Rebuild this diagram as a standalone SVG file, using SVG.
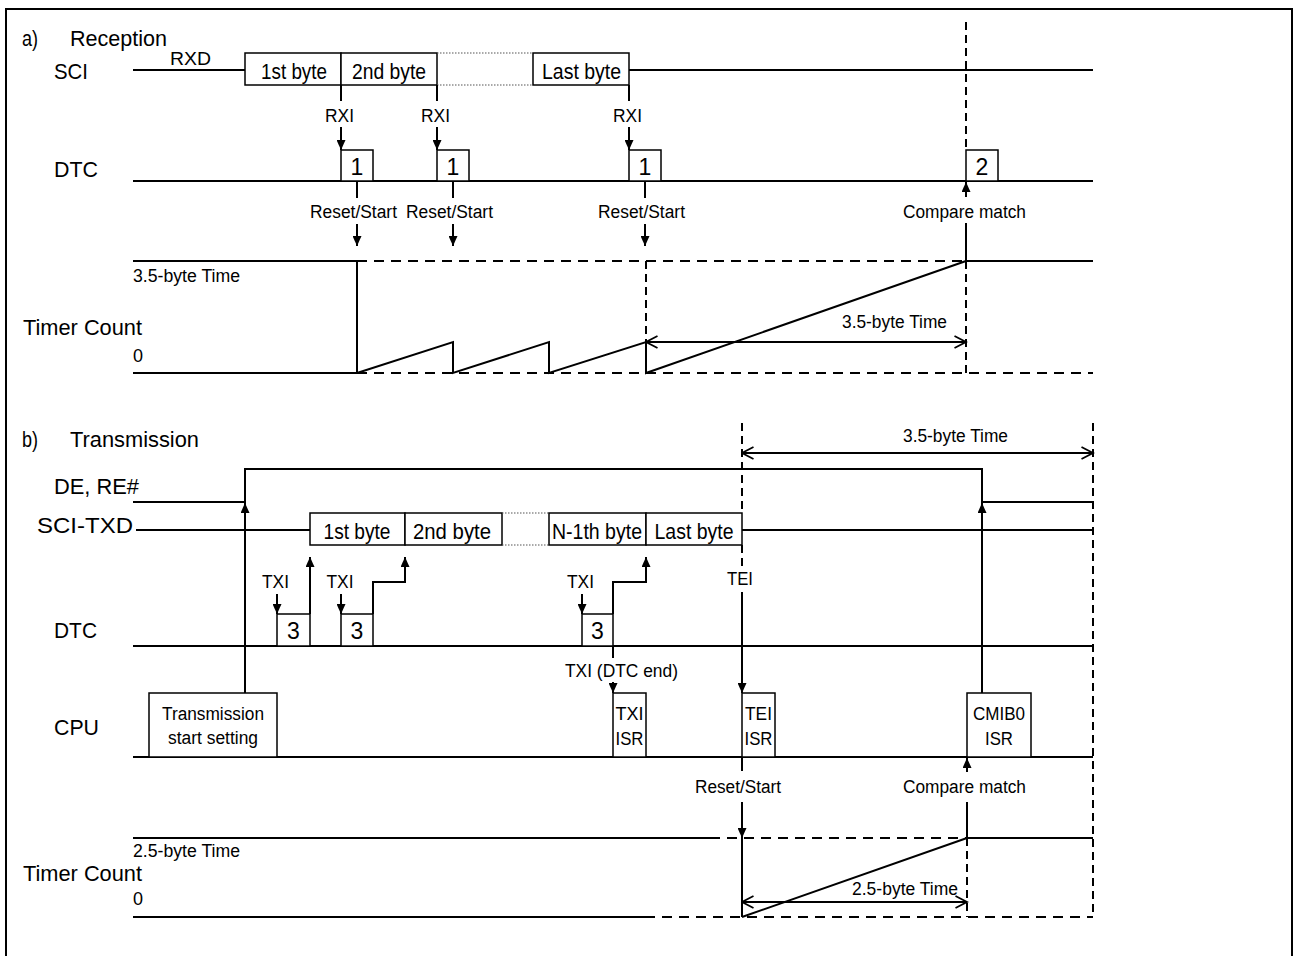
<svg xmlns="http://www.w3.org/2000/svg" width="1295" height="956" viewBox="0 0 1295 956">
<style>
text{font-family:"Liberation Sans",Arial,sans-serif;fill:#000}
.L{font-size:22px}
.m{font-size:18px}
.b{font-size:22px}
.n{font-size:23px}
.c{text-anchor:middle}
.s{stroke:#000;stroke-width:2;fill:none}
.d{stroke-dasharray:10 7}
.dv{stroke-dasharray:8 5}
.box{fill:#fff;stroke:#000;stroke-width:1.5}
.dot{stroke:#555;stroke-width:1.2;stroke-dasharray:1.5 1.5;fill:none}
.ar{marker-end:url(#ah)}
.dim{marker-start:url(#oh);marker-end:url(#oh)}
</style>
<defs>
<marker id="ah" markerUnits="userSpaceOnUse" markerWidth="10" markerHeight="9" refX="10" refY="4.5" orient="auto" viewBox="0 0 10 9"><path d="M0,0 L10,4.5 L0,9 z" fill="#000"/></marker>
<marker id="oh" markerUnits="userSpaceOnUse" markerWidth="14" markerHeight="14" refX="12.5" refY="7" orient="auto-start-reverse" viewBox="0 0 14 14"><path d="M1,1 L12.5,7 L1,13" fill="none" stroke="#000" stroke-width="1.8"/></marker>
</defs>
<rect x="6" y="9" width="1286" height="956" fill="#fff" stroke="#000" stroke-width="2"/>

<g id="titles">
<text class="L" x="22" y="46" textLength="16" lengthAdjust="spacingAndGlyphs">a)</text>
<text class="L" x="70" y="46" textLength="97" lengthAdjust="spacingAndGlyphs">Reception</text>
<text class="L" x="22" y="447" textLength="16" lengthAdjust="spacingAndGlyphs">b)</text>
<text class="L" x="70" y="447" textLength="129" lengthAdjust="spacingAndGlyphs">Transmission</text>
</g>

<g id="lane-labels">
<text class="m" x="170" y="65" textLength="41" lengthAdjust="spacingAndGlyphs">RXD</text>
<text class="L" x="54" y="79" textLength="34" lengthAdjust="spacingAndGlyphs">SCI</text>
<text class="L" x="54" y="177" textLength="44" lengthAdjust="spacingAndGlyphs">DTC</text>
<text class="m" x="133" y="282" textLength="107" lengthAdjust="spacingAndGlyphs">3.5-byte Time</text>
<text class="L" x="23" y="335" textLength="119" lengthAdjust="spacingAndGlyphs">Timer Count</text>
<text class="m" x="133" y="362">0</text>
<text class="L" x="54" y="494" textLength="85" lengthAdjust="spacingAndGlyphs">DE, RE#</text>
<text class="L" x="37" y="533" textLength="96" lengthAdjust="spacingAndGlyphs">SCI-TXD</text>
<text class="L" x="54" y="638" textLength="43" lengthAdjust="spacingAndGlyphs">DTC</text>
<text class="L" x="54" y="735" textLength="45" lengthAdjust="spacingAndGlyphs">CPU</text>
<text class="m" x="133" y="857" textLength="107" lengthAdjust="spacingAndGlyphs">2.5-byte Time</text>
<text class="L" x="23" y="881" textLength="119" lengthAdjust="spacingAndGlyphs">Timer Count</text>
<text class="m" x="133" y="905">0</text>
</g>

<g id="lanes">
<path class="s" d="M133,70 H245 M629,70 H1093"/>
<path class="s" d="M133,181 H1093"/>
<path class="s" d="M133,261 H357 M966,261 H1093 M133,373 H357"/>
<path class="s d" d="M357,261 H966 M357,373 H1093"/>
<path class="s" d="M133,502 H245 V469 H982 V502 H1093"/>
<path class="s" d="M136,530 H310 M742,530 H1093"/>
<path class="s" d="M133,646 H1093"/>
<path class="s" d="M133,757 H1093"/>
<path class="s" d="M133,838 H710 M967,838 H1093 M133,917 H645"/>
<path class="s d" d="M710,838 H967 M645,917 H1093"/>
</g>

<g id="rx-bytes">
<g id="rx-byte1"><rect class="box" x="245" y="53" width="96" height="32"/><text class="b c" x="294" y="78.5" textLength="66" lengthAdjust="spacingAndGlyphs">1st byte</text></g>
<g id="rx-byte2"><rect class="box" x="341" y="53" width="96" height="32"/><text class="b c" x="389" y="78.5" textLength="74" lengthAdjust="spacingAndGlyphs">2nd byte</text></g>
<path class="dot" d="M437,53 H533 M437,85 H533"/>
<g id="rx-last"><rect class="box" x="533" y="53" width="96" height="32"/><text class="b c" x="581.5" y="78.5" textLength="79" lengthAdjust="spacingAndGlyphs">Last byte</text></g>
</g>

<g id="rx-dtc">
<g id="dtc1a"><rect class="box" x="341" y="150" width="32" height="31"/><text class="n c" x="357" y="175">1</text></g>
<g id="dtc1b"><rect class="box" x="437" y="150" width="32" height="31"/><text class="n c" x="453" y="175">1</text></g>
<g id="dtc1c"><rect class="box" x="629" y="150" width="32" height="31"/><text class="n c" x="645" y="175">1</text></g>
<g id="dtc2"><rect class="box" x="966" y="150" width="32" height="31"/><text class="n c" x="982" y="175">2</text></g>
</g>

<g id="tx-bytes">
<g id="tx-byte1"><rect class="box" x="310" y="513" width="95" height="32"/><text class="b c" x="357" y="538.5" textLength="67" lengthAdjust="spacingAndGlyphs">1st byte</text></g>
<g id="tx-byte2"><rect class="box" x="405" y="513" width="97" height="32"/><text class="b c" x="452" y="538.5" textLength="78" lengthAdjust="spacingAndGlyphs">2nd byte</text></g>
<path class="dot" d="M502,513 H549 M502,545 H549"/>
<g id="tx-bytenm1"><rect class="box" x="549" y="513" width="97" height="32"/><text class="b c" x="597" y="538.5" textLength="90" lengthAdjust="spacingAndGlyphs">N-1th byte</text></g>
<g id="tx-last"><rect class="box" x="646" y="513" width="96" height="32"/><text class="b c" x="694" y="538.5" textLength="79" lengthAdjust="spacingAndGlyphs">Last byte</text></g>
</g>

<g id="tx-dtc">
<g id="dtc3a"><rect class="box" x="277" y="614" width="33" height="32"/><text class="n c" x="293.5" y="639">3</text></g>
<g id="dtc3b"><rect class="box" x="341" y="614" width="32" height="32"/><text class="n c" x="357" y="639">3</text></g>
<g id="dtc3c"><rect class="box" x="582" y="614" width="31" height="32"/><text class="n c" x="597.5" y="639">3</text></g>
</g>

<g id="cpu">
<g id="tx-start"><rect class="box" x="149" y="693" width="128" height="64"/><text class="m c" x="213" y="720" textLength="102" lengthAdjust="spacingAndGlyphs">Transmission</text><text class="m c" x="213" y="744" textLength="90" lengthAdjust="spacingAndGlyphs">start setting</text></g>
<g id="txi-isr"><rect class="box" x="613" y="693" width="33" height="64"/><text class="m c" x="629.5" y="720" textLength="28" lengthAdjust="spacingAndGlyphs">TXI</text><text class="m c" x="629.5" y="745" textLength="28" lengthAdjust="spacingAndGlyphs">ISR</text></g>
<g id="tei-isr"><rect class="box" x="742" y="693" width="33" height="64"/><text class="m c" x="758.5" y="720" textLength="27" lengthAdjust="spacingAndGlyphs">TEI</text><text class="m c" x="758.5" y="745" textLength="28" lengthAdjust="spacingAndGlyphs">ISR</text></g>
<g id="cmib0-isr"><rect class="box" x="967" y="693" width="64" height="64"/><text class="m c" x="999" y="720" textLength="52" lengthAdjust="spacingAndGlyphs">CMIB0</text><text class="m c" x="999" y="745" textLength="28" lengthAdjust="spacingAndGlyphs">ISR</text></g>
</g>

<g id="connectors">
<path class="s" d="M341,85 V101 M437,85 V101 M629,85 V101"/>
<path class="s ar" d="M341,127 V150"/>
<path class="s ar" d="M437,127 V150"/>
<path class="s ar" d="M629,127 V150"/>
<path class="s" d="M357,181 V198 M453,181 V198 M645,181 V198"/>
<path class="s ar" d="M357,224 V246"/>
<path class="s ar" d="M453,224 V246"/>
<path class="s ar" d="M645,224 V246"/>
<path class="s ar" d="M966,197 V182"/>
<path class="s" d="M966,223 V261"/>
<path class="s dv" d="M966,22 V150 M966,261 V373 M646,261 V342"/>
<path class="s" d="M357,261 V373"/>
<path class="s" d="M357,373 L453,342 V373 L549,342 V373 L646,342 V373 L966,261"/>
<path class="s dim" d="M646,342 H966"/>
<path class="s dim" d="M742,453 H1093"/>
<path class="s dv" d="M742,423 V513 M742,545 V568 M1093,423 V917 M967,838 V917"/>
<path class="s ar" d="M742,592 V693"/>
<path class="s ar" d="M245,693 V503"/>
<path class="s ar" d="M982,693 V503"/>
<path class="s ar" d="M277,594 V614"/>
<path class="s ar" d="M341,594 V614"/>
<path class="s ar" d="M582,594 V614"/>
<path class="s ar" d="M310,614 V557"/>
<path class="s ar" d="M373,614 V582 H405 V557"/>
<path class="s ar" d="M613,614 V582 H646 V557"/>
<path class="s" d="M613,646 V658"/>
<path class="s ar" d="M613,682 V693"/>
<path class="s" d="M742,757 V771"/>
<path class="s ar" d="M742,802 V838"/>
<path class="s ar" d="M967,772 V758"/>
<path class="s" d="M967,802 V838"/>
<path class="s" d="M742,838 V917 M742,917 L967,838"/>
<path class="s dim" d="M742,902 H967"/>
</g>

<g id="connector-labels">
<text class="m c" x="339.5" y="122" textLength="29" lengthAdjust="spacingAndGlyphs">RXI</text>
<text class="m c" x="435.5" y="122" textLength="29" lengthAdjust="spacingAndGlyphs">RXI</text>
<text class="m c" x="627.5" y="122" textLength="29" lengthAdjust="spacingAndGlyphs">RXI</text>
<text class="m c" x="353.5" y="218" textLength="87" lengthAdjust="spacingAndGlyphs">Reset/Start</text>
<text class="m c" x="449.5" y="218" textLength="87" lengthAdjust="spacingAndGlyphs">Reset/Start</text>
<text class="m c" x="641.5" y="218" textLength="87" lengthAdjust="spacingAndGlyphs">Reset/Start</text>
<text class="m c" x="964.5" y="218" textLength="123" lengthAdjust="spacingAndGlyphs">Compare match</text>
<text class="m c" x="894.5" y="328" textLength="105" lengthAdjust="spacingAndGlyphs">3.5-byte Time</text>
<text class="m c" x="955.5" y="442" textLength="105" lengthAdjust="spacingAndGlyphs">3.5-byte Time</text>
<text class="m c" x="275.5" y="588" textLength="27" lengthAdjust="spacingAndGlyphs">TXI</text>
<text class="m c" x="340" y="588" textLength="27" lengthAdjust="spacingAndGlyphs">TXI</text>
<text class="m c" x="580.5" y="588" textLength="27" lengthAdjust="spacingAndGlyphs">TXI</text>
<text class="m c" x="740" y="585" textLength="26" lengthAdjust="spacingAndGlyphs">TEI</text>
<text class="m c" x="621.5" y="677" textLength="113" lengthAdjust="spacingAndGlyphs">TXI (DTC end)</text>
<text class="m c" x="738" y="793" textLength="86" lengthAdjust="spacingAndGlyphs">Reset/Start</text>
<text class="m c" x="964.5" y="793" textLength="123" lengthAdjust="spacingAndGlyphs">Compare match</text>
<text class="m c" x="905" y="895" textLength="106" lengthAdjust="spacingAndGlyphs">2.5-byte Time</text>
</g>
</svg>
